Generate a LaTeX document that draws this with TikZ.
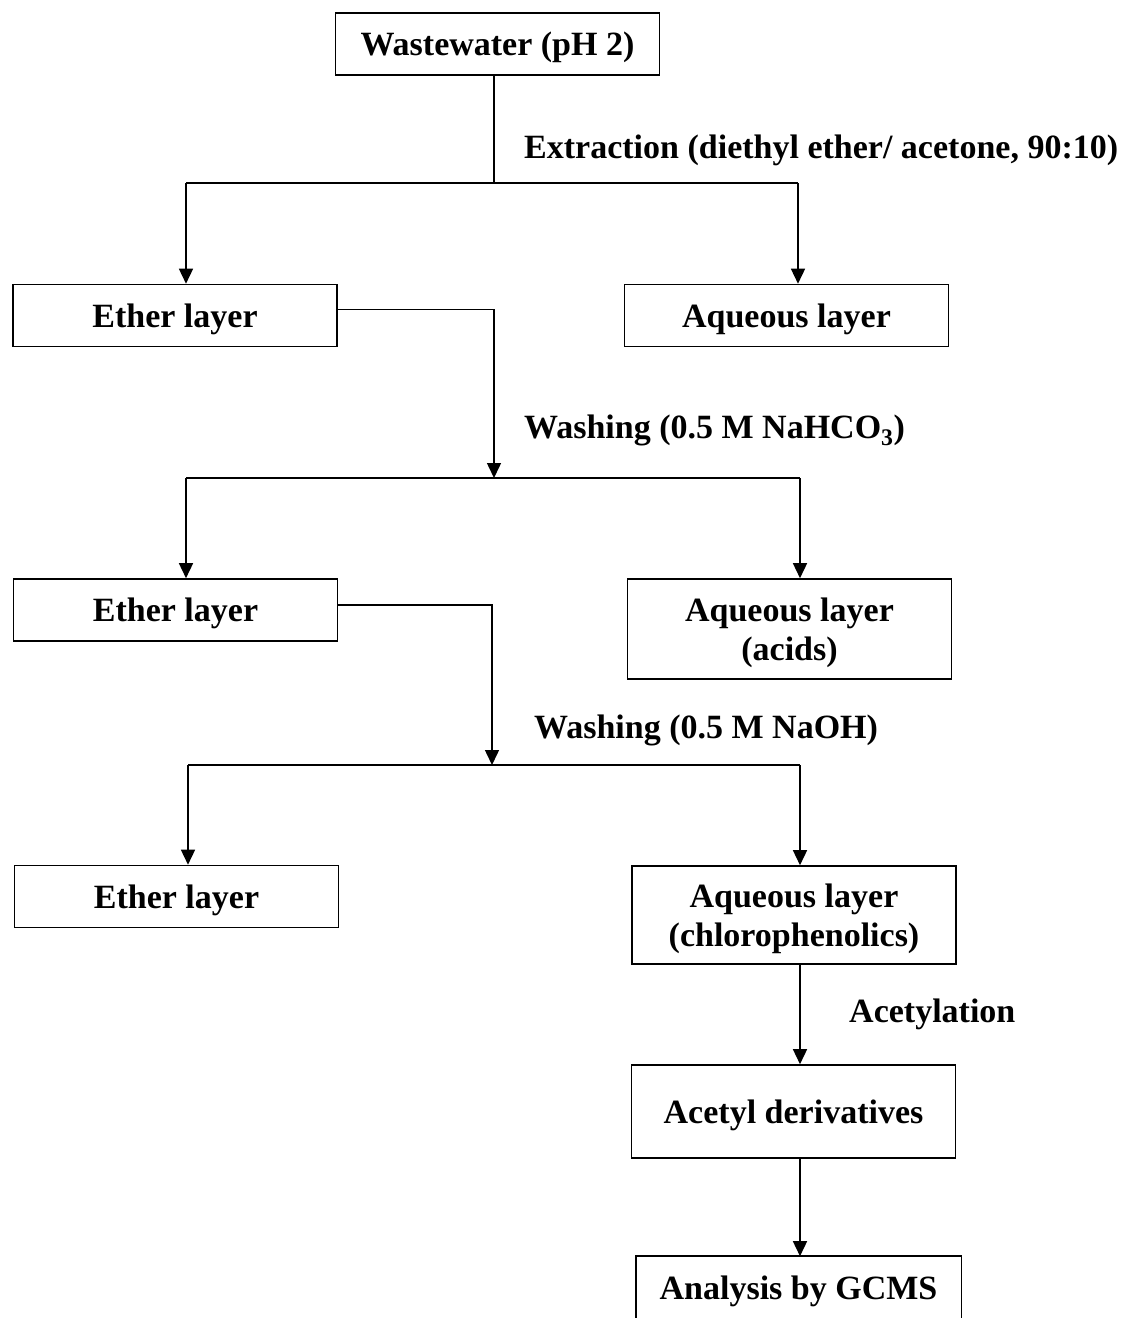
\documentclass[tikz,border=0pt]{standalone}
\usepackage{fontspec}
\setmainfont{Liberation Serif}
\usetikzlibrary{arrows.meta}
\begin{document}
\begin{tikzpicture}[x=1pt,y=-1pt,
  box/.style={draw, line width=1.6pt, minimum width=324pt, minimum height=62pt, inner sep=0pt, align=center,
    text depth=0pt, font=\fontsize{34}{39}\selectfont\bfseries},
  lbl/.style={anchor=west, inner sep=0pt, text depth=0pt, font=\fontsize{34}{39}\selectfont\bfseries},
  ln/.style={line width=1.5pt},
  arr/.style={line width=1.5pt, -{Triangle[length=15pt,width=14pt]}}]
\useasboundingbox (0,0) rectangle (1122,1318);
% boxes
\node[box] (ww) at (497.5,44) {Wastewater (pH 2)};
\node[box] (e1) at (175,315.5) {Ether layer};
\node[box] (a1) at (786.5,315.5) {Aqueous layer};
\node[box] (e2) at (175.5,610) {Ether layer};
\node[box, minimum height=100pt] (a2) at (789.5,629) {Aqueous layer\\(acids)};
\node[box] (e3) at (176.5,896.5) {Ether layer};
\node[box, minimum height=98pt] (a3) at (794,915) {Aqueous layer\\(chlorophenolics)};
\node[box, minimum height=93pt] (ad) at (793.5,1111.5) {Acetyl derivatives};
\node[box, draw=none, minimum height=61pt] (gc) at (798.5,1287.5) {Analysis by GCMS};
\draw[line width=1.6pt] (gc.south west) -- (gc.north west) -- (gc.north east) -- (gc.south east);
% junctions
\coordinate (j1) at (494,183);
\coordinate (jL1) at (186,183);
\coordinate (jR1) at (798,183);
\coordinate (j2) at (494,478);
\coordinate (jL2) at (186,478);
\coordinate (jR2) at (800,478);
\coordinate (j3) at (492,765);
\coordinate (jL3) at (188,765);
\coordinate (jR3) at (800,765);
% connectors
\draw[ln] (ww.south -| j1) -- (j1);
\draw[ln] (jL1) -- (jR1);
\draw[arr] (jL1) -- (jL1 |- e1.north);
\draw[arr] (jR1) -- (jR1 |- a1.north);
\draw[arr] ([yshift=6pt]e1.east) -| (j2);
\draw[ln] (jL2) -- (jR2);
\draw[arr] (jL2) -- (jL2 |- e2.north);
\draw[arr] (jR2) -- (jR2 |- a2.north);
\draw[arr] ([yshift=5pt]e2.east) -| (j3);
\draw[ln] (jL3) -- (jR3);
\draw[arr] (jL3) -- (jL3 |- e3.north);
\draw[arr] (jR3) -- (jR3 |- a3.north);
\draw[arr] (a3.south -| jR3) -- (jR3 |- ad.north);
\draw[arr] (ad.south -| jR3) -- (jR3 |- gc.north);
% labels
\node[lbl] (lx) at (524,147) {Extraction (diethyl ether/ acetone, 90:10)};
\node[lbl] (lw1) at (524,427) {Washing (0.5 M NaHCO\textsubscript{3})};
\node[lbl] (lw2) at (534,727) {Washing (0.5 M NaOH)};
\node[lbl] (lac) at (849,1011) {Acetylation};
\end{tikzpicture}
\end{document}
